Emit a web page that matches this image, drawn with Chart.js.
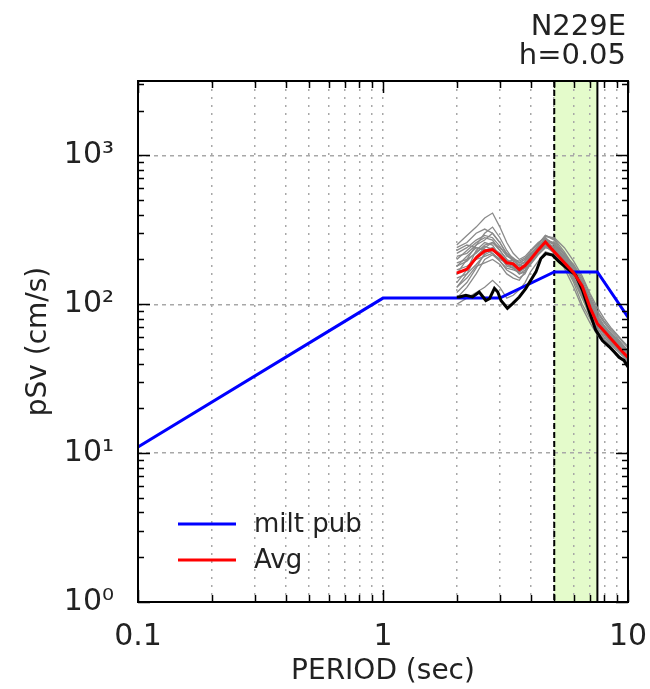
<!DOCTYPE html>
<html>
<head>
<meta charset="utf-8">
<script src="https://cdn.jsdelivr.net/npm/chart.js@4.4.1/dist/chart.umd.min.js"></script>
<style>
  html, body { margin: 0; padding: 0; background: #fff; }
  #wrap { width: 650px; height: 689px; }
</style>
</head>
<body>
<div id="wrap"><canvas id="psv"></canvas></div>
<script>
// design spectrum (blue)
const milPeriod = [0.1, 1, 3.0, 5, 7.5, 10]
const milSv = [11, 110, 110, 165, 165, 82]

// average of the records (red)
const avgPeriod = [2.0, 2.2, 2.4, 2.6, 2.8, 3.0, 3.2, 3.4, 3.6, 3.8, 4.0, 4.3, 4.6, 5.0, 5.5, 6.0, 6.5, 7.0, 7.5, 8.0, 8.5, 9.0, 9.5, 10]
const avgSv = [162, 172, 205, 228, 233, 212, 190, 187, 171, 182, 200, 232, 262, 225, 190, 163, 133, 95, 74, 66, 59, 53, 48, 44]

// seed record (black)
const seedPeriod = [2.0, 2.05, 2.18, 2.32, 2.47, 2.63, 2.72, 2.85, 2.94, 3.03, 3.22, 3.38, 3.6, 3.83, 4.01, 4.21, 4.41, 4.62, 4.92, 5.24, 5.66, 6.12, 6.52, 6.93, 7.38, 7.86, 8.37, 8.77, 9.19, 9.63, 10]
const seedSv = [112, 112, 115, 112, 121, 106, 109, 128, 121, 106, 94, 101, 112, 128, 145, 165, 203, 219, 214, 193, 174, 157, 124, 91, 67, 57, 52, 48, 44, 42, 38]

// individual records (gray), all on avgPeriod
const graySv = [
  [250, 290, 330, 380, 410, 330, 260, 220, 200, 210, 230, 260, 280, 250, 200, 160, 125, 95, 78, 68, 62, 57, 52, 48],
  [140, 170, 230, 260, 250, 210, 180, 175, 165, 180, 215, 250, 290, 270, 215, 175, 140, 105, 82, 70, 62, 56, 51, 46],
  [200, 230, 260, 280, 270, 230, 200, 190, 180, 195, 215, 245, 275, 250, 200, 160, 120, 92, 75, 65, 60, 55, 50, 46],
  [110, 130, 160, 200, 215, 195, 170, 160, 150, 160, 190, 220, 250, 235, 195, 150, 115, 88, 70, 60, 54, 50, 46, 42],
  [170, 180, 200, 210, 220, 200, 190, 200, 190, 200, 210, 230, 245, 220, 180, 145, 110, 85, 68, 60, 55, 51, 47, 43],
  [230, 250, 240, 230, 240, 220, 195, 185, 175, 185, 200, 225, 255, 240, 205, 170, 135, 100, 80, 70, 64, 58, 53, 49],
  [130, 150, 180, 190, 200, 185, 160, 150, 145, 165, 190, 230, 270, 260, 220, 180, 145, 110, 88, 75, 66, 60, 54, 49],
  [190, 200, 220, 250, 260, 240, 215, 200, 190, 200, 220, 240, 260, 230, 185, 140, 100, 80, 66, 58, 53, 49, 45, 41],
  [150, 160, 185, 215, 230, 210, 185, 175, 160, 170, 195, 225, 250, 245, 210, 175, 130, 95, 76, 67, 61, 56, 51, 47],
  [210, 220, 250, 300, 330, 280, 230, 200, 180, 185, 205, 230, 265, 255, 215, 185, 150, 115, 90, 77, 68, 62, 56, 51],
  [120, 140, 175, 220, 240, 215, 190, 185, 170, 175, 200, 235, 285, 280, 240, 195, 155, 118, 95, 80, 70, 63, 57, 52],
  [180, 195, 225, 245, 235, 205, 185, 180, 170, 180, 205, 240, 260, 225, 175, 130, 95, 75, 62, 55, 50, 46, 43, 40],
  [100, 110, 120, 130, 145, 130, 110, 115, 125, 140, 165, 195, 225, 215, 185, 150, 112, 82, 64, 56, 51, 47, 43, 40],
  [160, 200, 250, 270, 300, 260, 215, 195, 185, 190, 210, 245, 270, 240, 195, 155, 118, 90, 73, 63, 57, 52, 48, 44],
  [220, 240, 270, 290, 280, 245, 210, 200, 195, 205, 225, 255, 290, 275, 225, 180, 140, 108, 85, 72, 64, 58, 53, 48],
  [130, 160, 210, 240, 260, 230, 200, 180, 160, 165, 185, 215, 240, 230, 200, 165, 125, 92, 72, 62, 56, 51, 46, 42],
  [180, 210, 240, 235, 220, 195, 175, 170, 165, 175, 200, 240, 275, 255, 205, 165, 128, 100, 80, 69, 62, 57, 52, 47],
  [240, 260, 300, 320, 300, 260, 220, 205, 190, 190, 200, 220, 245, 235, 200, 168, 135, 103, 82, 71, 64, 58, 53, 48]
]

// axis ticks
const xTicks = [0.1, 0.2, 0.3, 0.4, 0.5, 0.6, 0.7, 0.8, 0.9, 1, 2, 3, 4, 5, 6, 7, 8, 9, 10]
const yTicks = [1, 2, 3, 4, 5, 6, 7, 8, 9, 10, 20, 30, 40, 50, 60, 70, 80, 90, 100, 200, 300, 400, 500, 600, 700, 800, 900, 1000, 2000, 3000]
const supers = { 0: '\u2070', 1: '\u00B9', 2: '\u00B2', 3: '\u00B3' }

// target band
const bandFrom = 5
const bandTo = 7.5

const FONT = "'DejaVu Sans', sans-serif"

function pts(xs, ys) {
    return xs.map((x, i) => ({ x: x, y: ys[i] }))
}

function isDecade(v) {
    let l = Math.log10(v)
    return Math.abs(l - Math.round(l)) < 1e-9
}

let datasets = []
datasets.push({ label: 'Avg', data: pts(avgPeriod, avgSv), borderColor: '#ff0000', borderWidth: 3, order: 0, legend: true })
datasets.push({ label: 'seed', data: pts(seedPeriod, seedSv), borderColor: '#000000', borderWidth: 3, order: 1 })
datasets.push({ label: 'milt pub', data: pts(milPeriod, milSv), borderColor: '#0000ff', borderWidth: 3, order: 2, legend: true })
for (let i = 0; i < graySv.length; i++)
    datasets.push({ label: 'rec' + (i + 1), data: pts(avgPeriod, graySv[i]), borderColor: '#8a8a8a', borderWidth: 1.3, order: 3 })

const decor = {
    id: 'decor',
    beforeDraw(chart) {
        const { ctx, chartArea: a, scales: { x } } = chart
        let x1 = x.getPixelForValue(bandFrom), x2 = x.getPixelForValue(bandTo)
        ctx.save()
        ctx.fillStyle = '#e4fbcb'
        ctx.fillRect(x1, a.top, x2 - x1, a.bottom - a.top)
        ctx.restore()
    },
    beforeDatasetsDraw(chart) {
        const { ctx, chartArea: a, scales: { x } } = chart
        let x1 = x.getPixelForValue(bandFrom), x2 = x.getPixelForValue(bandTo)
        ctx.save()
        ctx.strokeStyle = '#000'
        ctx.lineWidth = 2
        ctx.setLineDash([6, 3])
        ctx.beginPath(); ctx.moveTo(x1, a.top); ctx.lineTo(x1, a.bottom); ctx.stroke()
        ctx.setLineDash([])
        ctx.beginPath(); ctx.moveTo(x2, a.top); ctx.lineTo(x2, a.bottom); ctx.stroke()
        ctx.restore()
    },
    afterDatasetsDraw(chart) {
        const { ctx, chartArea: a, scales: { x, y } } = chart
        ctx.save()
        ctx.strokeStyle = '#000'
        ctx.lineWidth = 2
        ctx.strokeRect(a.left, a.top, a.right - a.left, a.bottom - a.top)
        // inward ticks
        ctx.lineWidth = 1.5
        ctx.beginPath()
        xTicks.forEach(v => {
            let px = Math.round(x.getPixelForValue(v)) + 0.5
            let len = isDecade(v) ? 12 : 7
            ctx.moveTo(px, a.bottom); ctx.lineTo(px, a.bottom - len)
            ctx.moveTo(px, a.top); ctx.lineTo(px, a.top + len)
        })
        yTicks.forEach(v => {
            let py = Math.round(y.getPixelForValue(v)) + 0.5
            let len = isDecade(v) ? 12 : 6
            ctx.moveTo(a.left, py); ctx.lineTo(a.left + len, py)
            ctx.moveTo(a.right, py); ctx.lineTo(a.right - len, py)
        })
        ctx.stroke()

        // legend inside the plot
        let items = chart.data.datasets.filter(d => d.legend)
        items.sort((p, q) => (p.label === 'milt pub' ? -1 : 1))
        ctx.font = '26px ' + FONT
        ctx.textBaseline = 'middle'
        ctx.fillStyle = '#222'
        items.forEach((d, i) => {
            let ly = 524 + i * 36
            ctx.strokeStyle = d.borderColor
            ctx.lineWidth = 3
            ctx.beginPath(); ctx.moveTo(178, ly); ctx.lineTo(236, ly); ctx.stroke()
            ctx.fillText(d.label, 254, ly + 1)
        })

        // header
        ctx.font = '29px ' + FONT
        ctx.textAlign = 'right'
        ctx.textBaseline = 'alphabetic'
        ctx.fillText('N229E', 626, 35)
        ctx.fillText('h=0.05', 626, 64)
        ctx.restore()
    }
}

Chart.defaults.font.family = FONT
Chart.defaults.color = '#222'

new Chart(document.getElementById('psv'), {
    type: 'line',
    data: { datasets: datasets },
    options: {
        responsive: true,
        maintainAspectRatio: false,
        animation: false,
        layout: { padding: { top: 81, right: 22, left: 0, bottom: 0 } },
        elements: { point: { radius: 0 }, line: { tension: 0 } },
        plugins: { legend: { display: false }, tooltip: { enabled: false } },
        scales: {
            x: {
                type: 'logarithmic',
                min: 0.1,
                max: 10,
                afterBuildTicks(scale) { scale.ticks = xTicks.map(v => ({ value: v })) },
                afterFit(scale) { scale.height = 87; scale.paddingLeft = 0; scale.paddingRight = 0 },
                ticks: {
                    autoSkip: false,
                    maxRotation: 0,
                    padding: 17,
                    font: { size: 30 },
                    callback: v => (isDecade(v) ? String(v) : '')
                },
                grid: { color: '#a8a8a8', lineWidth: 1.5, drawTicks: false },
                border: { display: false, dash: [2, 6] },
                title: { display: true, text: 'PERIOD (sec)', font: { size: 28 }, padding: { top: 0, bottom: 0 } }
            },
            y: {
                type: 'logarithmic',
                min: 1,
                max: Math.pow(10, 3.5),
                afterBuildTicks(scale) { scale.ticks = yTicks.map(v => ({ value: v })) },
                afterFit(scale) { scale.width = 138; scale.paddingTop = 0; scale.paddingBottom = 0 },
                ticks: {
                    autoSkip: false,
                    padding: 24,
                    font: { size: 30 },
                    callback: v => (isDecade(v) ? '10' + supers[Math.round(Math.log10(v))] : '')
                },
                grid: {
                    color: c => (c.tick && isDecade(c.tick.value) && c.tick.value > 1 ? '#a8a8a8' : 'rgba(0,0,0,0)'),
                    lineWidth: 1.5,
                    drawTicks: false
                },
                border: { display: false, dash: [4, 4] },
                title: { display: true, text: 'pSv (cm/s)', font: { size: 28 }, padding: { top: 22, bottom: 0 } }
            }
        }
    },
    plugins: [decor]
})
</script>
</body>
</html>
